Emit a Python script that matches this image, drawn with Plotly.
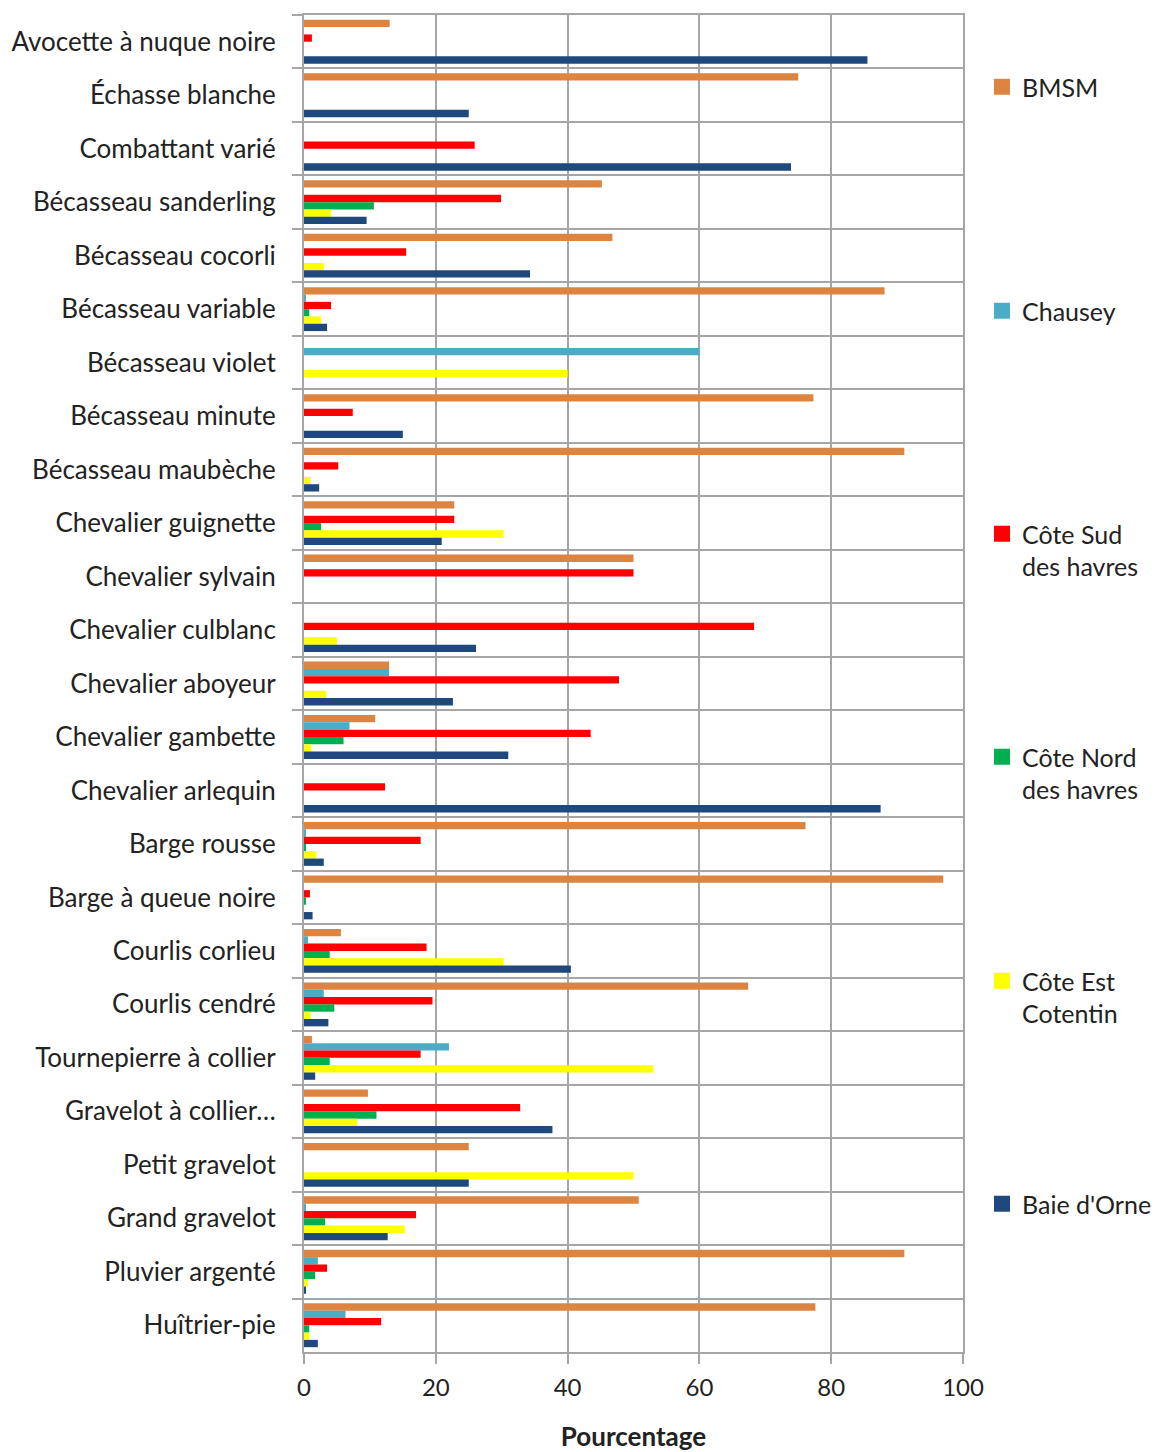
import plotly.graph_objects as go

# Species (top to bottom)
categories = [
    "Avocette à nuque noire", "Échasse blanche", "Combattant varié",
    "Bécasseau sanderling", "Bécasseau cocorli", "Bécasseau variable",
    "Bécasseau violet", "Bécasseau minute", "Bécasseau maubèche",
    "Chevalier guignette", "Chevalier sylvain", "Chevalier culblanc",
    "Chevalier aboyeur", "Chevalier gambette", "Chevalier arlequin",
    "Barge rousse", "Barge à queue noire", "Courlis corlieu",
    "Courlis cendré", "Tournepierre à collier", "Gravelot à collier…",
    "Petit gravelot", "Grand gravelot", "Pluvier argenté", "Huîtrier-pie",
]

# Percentage of each species' count by site (None = absent)
bmsm = [13.0, 75.0, None, 45.2, 46.8, 88.1, None, 77.3, 91.1, 22.8, 50.0, None,
        12.9, 10.8, None, 76.1, 97.0, 5.6, 67.4, 1.2, 9.7, 25.0, 50.8, 91.1, 77.6]
chausey = [None, None, None, None, None, 0.2, 60.0, None, None, None, None, None,
           12.9, 6.9, None, 0.2, None, 0.6, 3.0, 22.0, None, None, 0.3, 2.1, 6.3]
cote_sud = [1.2, None, 25.9, 29.9, 15.5, 4.1, None, 7.4, 5.2, 22.8, 50.0, 68.3,
            47.8, 43.5, 12.3, 17.7, 0.9, 18.6, 19.5, 17.7, 32.8, None, 17.0, 3.5, 11.7]
cote_nord = [None, None, None, 10.6, None, 0.8, None, None, None, 2.6, None, None,
             None, 6.0, None, 0.3, 0.3, 3.9, 4.6, 3.9, 11.0, None, 3.2, 1.7, 0.8]
cote_est = [None, None, None, 4.1, 3.0, 2.6, 40.0, None, 1.0, 30.3, None, 5.0,
            3.4, 1.1, None, 1.9, None, 30.3, 1.0, 53.0, 8.1, 50.0, 15.3, 0.6, 0.8]
baie_orne = [85.5, 25.0, 73.9, 9.5, 34.3, 3.5, None, 15.0, 2.3, 20.9, None, 26.1,
             22.6, 31.0, 87.5, 3.0, 1.3, 40.5, 3.7, 1.7, 37.7, 25.0, 12.7, 0.3, 2.1]

series_names = ["BMSM", "Chausey", "Côte Sud<br>des havres",
                "Côte Nord<br>des havres", "Côte Est<br>Cotentin", "Baie d'Orne"]
series_values = [bmsm, chausey, cote_sud, cote_nord, cote_est, baie_orne]
series_colors = ["#DC8440", "#4BACC6", "#FF0000", "#00B050", "#FFFF00", "#1F497D"]

FONT = "Lato, 'Open Sans', sans-serif"
TEXT = "#222222"
GRID = "#A6A6A6"

# Plot area in pixels
L, R, T, B = 304, 195, 15, 100
W, H = 1158, 1452
plot_w = W - L - R
plot_h = H - T - B

fig = go.Figure()

legend_first_line = [88, 312, 535, 758, 982, 1205]

for i, (name, vals, col) in enumerate(zip(series_names, series_values, series_colors)):
    lg = "legend" if i == 0 else f"legend{i + 1}"
    fig.add_trace(go.Bar(
        y=categories, x=vals, orientation="h", name=name.replace("<br>", " "),
        marker=dict(color=col, line=dict(width=0)),
        legendgroup=f"g{i}", showlegend=False,
    ))
    # legend entry with a larger square swatch
    fig.add_trace(go.Scatter(
        x=[None], y=[None], mode="markers", name=name,
        marker=dict(symbol="square", size=16, color=col),
        legendgroup=f"g{i}", legend=lg, showlegend=True,
    ))

legend_layout = {}
for i, ypx in enumerate(legend_first_line):
    key = "legend" if i == 0 else f"legend{i + 1}"
    legend_layout[key] = dict(
        x=(982 - L) / plot_w, xanchor="left",
        y=(H - B - (ypx - 24)) / plot_h, yanchor="top",
        valign="top", itemwidth=30,
        font=dict(family=FONT, size=25, color=TEXT),
        bgcolor="rgba(0,0,0,0)", borderwidth=0,
    )

fig.update_layout(
    width=W, height=H,
    margin=dict(l=L, r=R, t=T, b=B, pad=0, autoexpand=False),
    paper_bgcolor="white", plot_bgcolor="white",
    barmode="group", bargap=0.18, bargroupgap=0,
    font=dict(family=FONT, size=24, color=TEXT),
    **legend_layout,
)

fig.update_xaxes(
    range=[0, 100], tickvals=[0, 20, 40, 60, 80, 100],
    showgrid=True, gridcolor=GRID, gridwidth=1.5,
    showline=True, linecolor=GRID, linewidth=2, mirror=True,
    ticks="outside", ticklen=10, tickcolor=GRID, tickwidth=1.5,
    ticklabelstandoff=3,
    tickfont=dict(family=FONT, size=24, color=TEXT),
    zeroline=False,
    title=dict(text="<b>Pourcentage</b>", standoff=34,
               font=dict(family=FONT, size=26, color=TEXT)),
)

fig.update_yaxes(
    type="category", categoryorder="array", categoryarray=categories,
    autorange="reversed",
    tickson="boundaries", ticks="outside", ticklen=10, tickcolor=GRID, tickwidth=1.5,
    showgrid=True, gridcolor=GRID, gridwidth=1.5,
    showline=True, linecolor=GRID, linewidth=2, mirror=True,
    ticklabelstandoff=21,
    tickfont=dict(family=FONT, size=26, color=TEXT),
)

fig.write_html("out.html")
